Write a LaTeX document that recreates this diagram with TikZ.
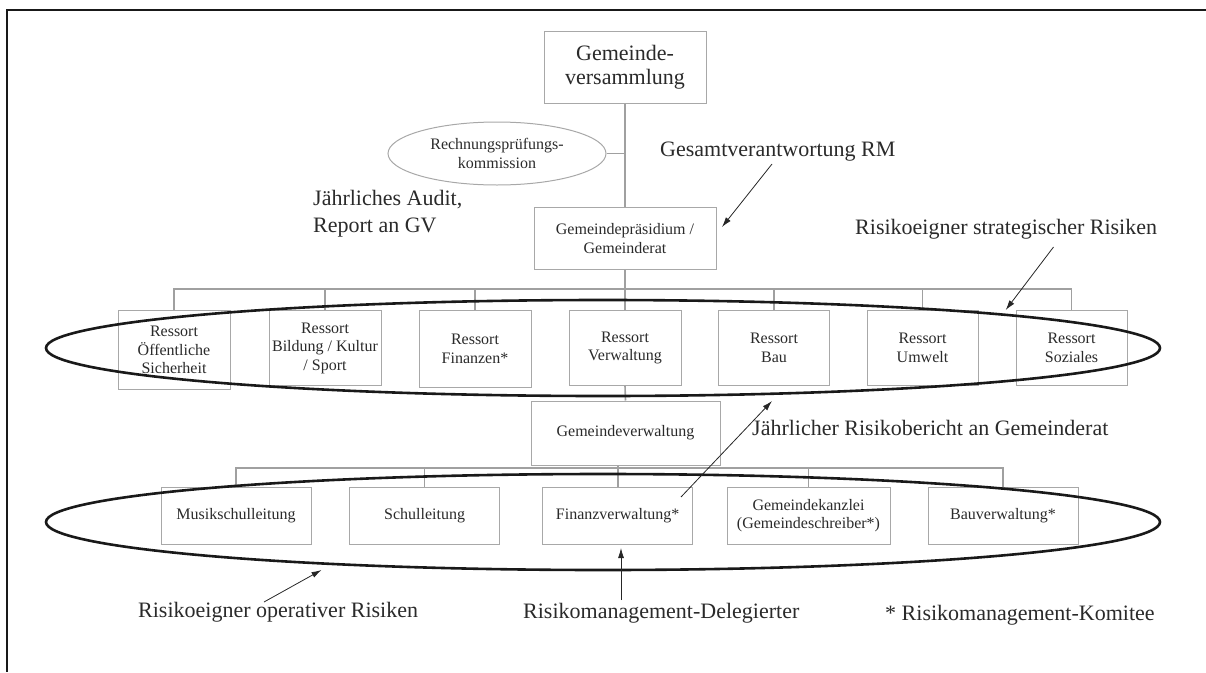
\documentclass[tikz,border=0pt]{standalone}
\usepackage{fontspec}
\setmainfont{Liberation Serif}
\usetikzlibrary{shapes.geometric,arrows.meta}
\definecolor{boxgray}{HTML}{A8A8A8}
\definecolor{conngray}{HTML}{A0A0A0}
\definecolor{txt}{HTML}{2A2A2A}
\begin{document}
\begin{tikzpicture}[x=1pt,y=-1pt,
  box/.style={draw=boxgray, line width=1pt, inner sep=0pt, align=center, text=txt, font=\fontsize{16}{18.5}\selectfont},
  conn/.style={draw=conngray, line width=1.6pt},
  ring/.style={draw=black!90, line width=2.6pt, ellipse, inner sep=0pt},
  lab/.style={text=txt, font=\fontsize{22}{27}\selectfont, inner sep=0pt},
  arr/.style={draw=black!85, line width=0.8pt, -{Latex[length=10pt,width=6pt]}}
]
\path[use as bounding box] (0,0) rectangle (1206,672);
\draw[line width=2.5pt, black!90] (1206,10) -- (7,10) -- (7,672);

% top
\node[box, minimum width=162pt, minimum height=72pt, font=\fontsize{22}{24}\selectfont] (GV) at (625,67) {Gemeinde-\\versammlung};
\node[box, minimum width=182pt, minimum height=62pt] (GP) at (625,238.5) {Gemeindepräsidium /\\Gemeinderat};
\node[draw=boxgray, line width=1pt, ellipse, minimum width=218pt, minimum height=63pt, inner sep=0pt, align=center, text=txt, font=\fontsize{16}{19}\selectfont] (RPK) at (497,153.5) {Rechnungsprüfungs-\\kommission};
\draw[conn] (GV.south) -- (GP.north);
\draw[conn] (RPK.east) -- (RPK.east -| GV.south);

% Ressorts
\node[box, anchor=north, minimum width=112pt, minimum height=79pt] (R1) at (174,310) {Ressort\\Öffentliche\\Sicherheit};
\node[box, anchor=north, minimum width=112pt, minimum height=75pt] (R2) at (325,310) {Ressort\\Bildung / Kultur\\/ Sport};
\node[box, anchor=north, minimum width=112pt, minimum height=77pt] (R3) at (475,310) {Ressort\\Finanzen*};
\node[box, anchor=north, minimum width=112pt, minimum height=75pt] (R4) at (625,310) {Ressort\\Verwaltung};
\node[box, anchor=north, minimum width=111pt, minimum height=75pt] (R5) at (774,310) {Ressort\\Bau};
\node[box, anchor=north, minimum width=111pt, minimum height=75pt] (R6) at (922.5,310) {Ressort\\Umwelt};
\node[box, anchor=north, minimum width=111pt, minimum height=75pt] (R7) at (1071.5,310) {Ressort\\Soziales};
\coordinate (B1) at (625,289);
\draw[conn] (GP.south) -- (B1);
\draw[conn] (R1.north) |- (B1) -| (R7.north);
\foreach \i in {2,...,6} \draw[conn] (R\i.north) -- (R\i.north |- B1);

% Gemeindeverwaltung
\node[box, minimum width=189pt, minimum height=64pt] (GVW) at (625.5,433) {Gemeindeverwaltung};
\draw[conn] (R4.south) -- (GVW.north);

% lower boxes
\node[box, minimum width=150pt, minimum height=57pt] (L1) at (236,515.5) {Musikschulleitung};
\node[box, minimum width=150pt, minimum height=57pt] (L2) at (424.6,515.5) {Schulleitung};
\node[box, minimum width=150pt, minimum height=57pt] (L3) at (617.7,515.5) {Finanzverwaltung*};
\node[box, minimum width=163pt, minimum height=57pt] (L4) at (808.5,515.5) {Gemeindekanzlei\\(Gemeindeschreiber*)};
\node[box, minimum width=150pt, minimum height=57pt] (L5) at (1003,515.5) {Bauverwaltung*};
\coordinate (B2) at (617.7,468);
\draw[conn] (L3.north |- GVW.south) -- (L3.north);
\draw[conn] (L1.north) |- (B2) -| (L5.north);
\draw[conn] (L2.north) -- (L2.north |- B2);
\draw[conn] (L4.north) -- (L4.north |- B2);

% rings
\node[ring, minimum width=1114pt, minimum height=96pt] (E1) at (603,348) {};
\node[ring, minimum width=1114pt, minimum height=96pt] (E2) at (603,522) {};

% labels
\node[lab, anchor=west] (GVRM) at (660,152) {Gesamtverantwortung RM};
\node[lab, anchor=west, align=left] (JA) at (313,214) {Jährliches Audit,\\Report an GV};
\node[lab, anchor=west] (RSR) at (855,229) {Risikoeigner strategischer Risiken};
\node[lab, anchor=west] (JRB) at (752,428) {Jährlicher Risikobericht an Gemeinderat};
\node[lab, anchor=west] (ROR) at (138,612) {Risikoeigner operativer Risiken};
\node[lab, anchor=west] (RMD) at (523,613) {Risikomanagement-Delegierter};
\node[lab, anchor=west] (RMK) at (885,615) {* Risikomanagement-Komitee};

% arrows
\coordinate (a1s) at (772,164); \coordinate (a1e) at (722,227);
\coordinate (a2s) at (1053.5,247); \coordinate (a2e) at (1005.7,310);
\coordinate (a3s) at (681,497); \coordinate (a3e) at (772,401);
\coordinate (a4s) at (621,600); \coordinate (a4e) at (621,548);
\coordinate (a5s) at (264,602); \coordinate (a5e) at (321.5,570);
\draw[arr] (a1s) -- (a1e);
\draw[arr] (a2s) -- (a2e);
\draw[arr] (a3s) -- (a3e);
\draw[arr] (a4s) -- (a4e);
\draw[arr] (a5s) -- (a5e);
\end{tikzpicture}
\end{document}
